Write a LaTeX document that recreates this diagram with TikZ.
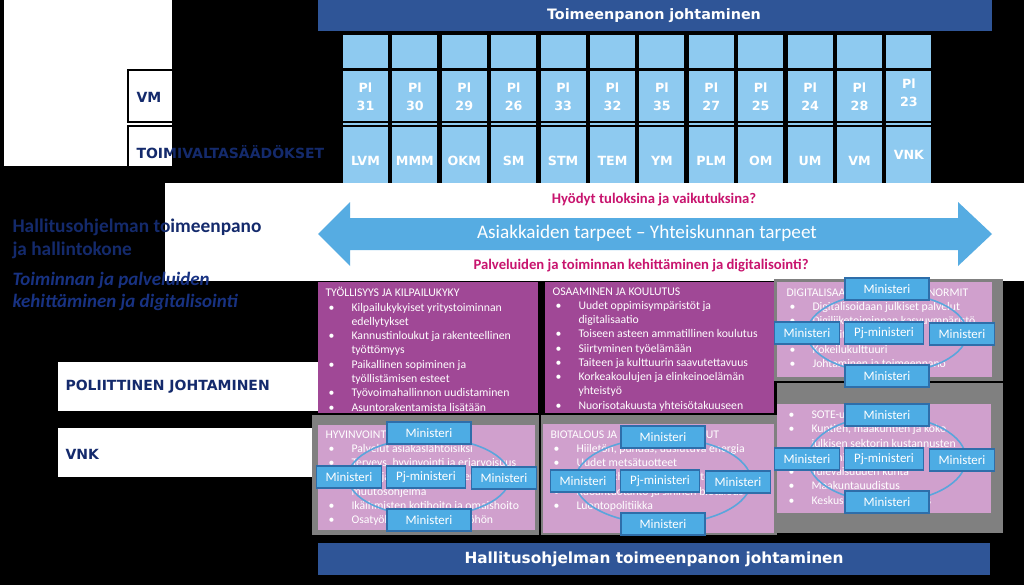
\documentclass[tikz,border=0pt]{standalone}
\usepackage{fontspec}
\setmainfont{Carlito}
\newfontfamily\verd{DejaVu Sans}

\definecolor{barblue}{RGB}{47,85,151}
\definecolor{colblue}{RGB}{142,202,240}
\definecolor{arrowblue}{RGB}{86,172,226}
\definecolor{magtext}{RGB}{200,20,110}
\definecolor{purplebox}{RGB}{160,72,150}
\definecolor{pinkbox}{RGB}{208,160,205}
\definecolor{framegray}{RGB}{128,128,128}
\definecolor{minfill}{RGB}{77,172,228}
\definecolor{minline}{RGB}{46,110,170}
\definecolor{ringblue}{RGB}{90,165,220}
\definecolor{navy}{RGB}{20,42,108}
\definecolor{navyit}{RGB}{24,50,130}

\newcommand{\bitem}[1]{\makebox[19.5pt][l]{\hspace{2.25pt}\textbullet}#1}
\newcommand{\bcont}[1]{\hspace*{19.5pt}#1}

\tikzset{every picture/.style={line width=0.75pt},
  minbox/.style={draw=minline, line width=1.2pt, fill=minfill, text=white,
    font=\fontsize{9.7}{11}\selectfont, inner sep=0pt,
    minimum width=48.75pt, minimum height=16.5pt},
  wide/.style={minimum width=63pt},
  pjbox/.style={minbox, minimum width=59.25pt},
  ring/.style={draw=ringblue, line width=1.2pt},
  boxtext/.style={anchor=north west, inner sep=0pt, text=white, align=left,
    font=\fontsize{8.8}{10.7}\selectfont},
  coltext/.style={text=white, font=\verd\bfseries\fontsize{9.5}{13.5}\selectfont,
    align=center, inner sep=0pt},
  lab/.style={anchor=west, text=navy, inner sep=0pt,
    font=\verd\bfseries\fontsize{10.5}{12}\selectfont},
  bartext/.style={text=white, inner sep=0pt, font=\verd\bfseries},
}

\begin{document}
\begin{tikzpicture}[x=0.75pt,y=0.75pt,yscale=-1,xscale=1]
\useasboundingbox (0,0) rectangle (1024,585);
%Shape: Rectangle [background]
\fill[black] (0,0) rectangle (1024,585);
%Shape: Rectangle [top left]
\fill[white] (4,0) rectangle (172,166);
\draw[line width=1.5pt] (172,70) -- (128,70) -- (128,122) -- (172,122);
\draw[line width=1.5pt] (172,126) -- (128,126) -- (128,166);
% Text Node
\node[lab] (vm) at (136,97) {VM};
\node[lab] (toimi) at (136,152) {TOIMIVALTASÄÄDÖKSET};

%Shape: Rectangle [top bar]
\fill[barblue] (318,0) rectangle (992,31);
\node[bartext, font=\verd\bfseries\fontsize{10.75}{12}\selectfont] (topbar) at (654,16) {Toimeenpanon johtaminen};

%Columns
\foreach \ab/\pl [count=\i from 0] in {LVM/31, MMM/30, OKM/29, SM/26, STM/33, TEM/32, YM/35, PLM/27, OM/25, UM/24, VM/28, VNK/23} {
  \pgfmathsetmacro\cx{343+49.4*\i}
  \pgfmathsetmacro\dy{(\i==11)*(-4)}
  \pgfmathsetmacro\dz{(\i==11)*(-6)}
  \fill[colblue] (\cx,35) rectangle ++(45,33);
  \fill[colblue] (\cx,71) rectangle ++(45,50);
  \fill[colblue] (\cx,123) rectangle ++(45,2);
  \fill[colblue] (\cx,127) rectangle ++(45,56);
  \node[coltext] (pl\i) at (\cx+22.5,97+\dy) {Pl\\\pl};
  \node[coltext] (min\i) at (\cx+22.5,161+\dz) {\ab};
}

%Shape: Rectangle [white band]
\fill[white] (165,183) rectangle (1024,281);
%Shape: Double Arrow
\fill[arrowblue] (318,234) -- (350,202) -- (350,218) -- (958,218) -- (958,202)
  -- (992,234) -- (958,266) -- (958,250) -- (350,250) -- (350,266) -- cycle;
% Text Node
\node[text=white, inner sep=0pt, font=\fontsize{14.4}{16}\selectfont] (needs) at (647,233) {Asiakkaiden tarpeet -- Yhteiskunnan tarpeet};
\node[text=magtext, inner sep=0pt, font=\bfseries\fontsize{11}{13}\selectfont] (hyodyt) at (654,200) {Hyödyt tuloksina ja vaikutuksina?};
\node[text=magtext, inner sep=0pt, font=\bfseries\fontsize{11}{13}\selectfont] (palv) at (641,266) {Palveluiden ja toiminnan kehittäminen ja digitalisointi?};

% Text Node [left headings]
\node[anchor=north west, inner sep=0pt, align=left, text=navy, font=\bfseries\fontsize{14.5}{17.25}\selectfont] (hallitus) at (12,218) {Hallitusohjelman toimeenpano\\ja hallintokone};
\node[anchor=north west, inner sep=0pt, align=left, text=navyit, font=\bfseries\itshape\fontsize{14.2}{16.5}\selectfont] (toiminta) at (12,272) {Toiminnan ja palveluiden\\kehittäminen ja digitalisointi};

%Shape: Rectangle [label boxes]
\fill[white] (58,362) rectangle (318,411);
\node[lab] (polit) at (65,387) {POLIITTINEN JOHTAMINEN};
\fill[white] (58,428) rectangle (318,477);
\node[lab] (vnk) at (65,454) {VNK};

%Shape: Rectangle [frames]
\fill[framegray] (774,279) rectangle (1003,381);
\fill[framegray] (777,383) rectangle (1003,533);
\fill[framegray] (312,415) rectangle (539,535);
\fill[framegray] (541,415) rectangle (777,535);
%Shape: Rectangle [theme boxes]
\fill[purplebox] (318,282) rectangle (538,413);
\fill[purplebox] (545,282) rectangle (774,413);
\fill[pinkbox] (777,282) rectangle (992,377);
\fill[pinkbox] (777,404) rectangle (991,513);
\fill[pinkbox] (318,425) rectangle (535,530);
\fill[pinkbox] (543,424) rectangle (774,533);

% Text Node [theme texts]
\node[boxtext] (tyo) at (325,287) {TYÖLLISYYS JA KILPAILUKYKY\\
\bitem{Kilpailukykyiset yritystoiminnan}\\
\bcont{edellytykset}\\
\bitem{Kannustinloukut ja rakenteellinen}\\
\bcont{työttömyys}\\
\bitem{Paikallinen sopiminen ja}\\
\bcont{työllistämisen esteet}\\
\bitem{Työvoimahallinnon uudistaminen}\\
\bitem{Asuntorakentamista lisätään}};
\node[boxtext] (osaa) at (552,287) {OSAAMINEN JA KOULUTUS\\
\bitem{Uudet oppimisympäristöt ja}\\
\bcont{digitalisaatio}\\
\bitem{Toiseen asteen ammatillinen koulutus}\\
\bitem{Siirtyminen työelämään}\\
\bitem{Taiteen ja kulttuurin saavutettavuus}\\
\bitem{Korkeakoulujen ja elinkeinoelämän}\\
\bcont{yhteistyö}\\
\bitem{Nuorisotakuusta yhteisötakuuseen}};
\node[boxtext] (digi) at (786,288) {DIGITALISAATIO, KOKEILUT JA NORMIT\\
\bitem{Digitalisoidaan julkiset palvelut}\\
\bitem{Digiliiketoiminnan kasvuympäristö}\\
\bitem{Normit, säädökset}\\
\bitem{Kokeilukulttuuri}\\
\bitem{Johtaminen ja toimeenpano}};
\node[boxtext] (hyvin) at (325,430) {HYVINVOINTI JA TERVEYS\\
\bitem{Palvelut asiakaslähtöisiksi}\\
\bitem{Terveys, hyvinvointi ja eriarvoisuus}\\
\bitem{Lapsi- ja perhepalveluiden}\\
\bcont{muutosohjelma}\\
\bitem{Ikäihmisten kotihoito ja omaishoito}\\
\bitem{Osatyökykyisille väyliä työhön}};
\node[boxtext] (bio) at (550,430) {BIOTALOUS JA PUHTAAT RATKAISUT\\
\bitem{Hiiletön, puhdas, uusiutuva energia}\\
\bitem{Uudet metsätuotteet}\\
\bitem{Cleantech-ratkaisut ja kiertotalous}\\
\bitem{Ruoantuotanto ja sininen biotalous}\\
\bitem{Luontopolitiikka}};
\node[boxtext] (sote) at (785,410) {\bitem{SOTE-uudistus}\\
\bitem{Kuntien, maakuntien ja koko}\\
\bcont{julkisen sektorin kustannusten}\\
\bcont{karsiminen}\\
\bitem{Tulevaisuuden kunta}\\
\bitem{Maakuntauudistus}\\
\bitem{Keskushallinnon uudistus}};

%Minister rings
\foreach \nm/\cx/\cy/\rx/\ry in {tr/887/333/80/40, br/887/459/79/43, bl/429/477/81/39, bm/663/481/88/43} {
  \draw[ring] (\cx,\cy) ellipse [x radius=\rx, y radius=\ry];
  \node[minbox, wide] (\nm-top) at (\cx,\cy-44) {Ministeri};
  \node[minbox] (\nm-left) at (\cx-80,\cy) {Ministeri};
  \node[pjbox] (\nm-pj) at (\cx-3,\cy) {Pj-ministeri};
  \node[minbox] (\nm-right) at (\cx+75,\cy+1) {Ministeri};
  \node[minbox, wide] (\nm-bot) at (\cx,\cy+43) {Ministeri};
}

%Shape: Rectangle [bottom bar]
\fill[barblue] (318,543) rectangle (990,575);
\node[bartext, font=\verd\bfseries\fontsize{11.5}{13}\selectfont] (botbar) at (654,559) {Hallitusohjelman toimeenpanon johtaminen};
\end{tikzpicture}
\end{document}
